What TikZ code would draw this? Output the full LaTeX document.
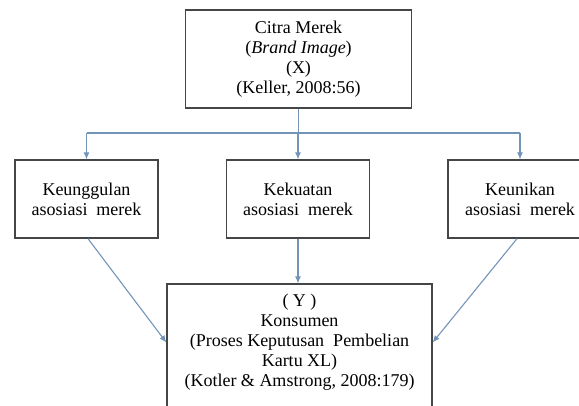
\documentclass[tikz,border=0pt]{standalone}
\usepackage{fontspec}
\setmainfont{Liberation Serif}
\usetikzlibrary{arrows.meta}
\definecolor{arrowblue}{RGB}{115,148,185}
\definecolor{boxgray}{RGB}{70,70,70}
\begin{document}
\begin{tikzpicture}[x=1pt,y=-1pt,
  box/.style={draw=boxgray,line width=1.3pt,rectangle,inner sep=0pt,align=center,font=\fontsize{18}{20}\selectfont},
  txt/.style={inner sep=0pt,align=center,font=\fontsize{18}{20}\selectfont},
  conn/.style={draw=arrowblue,line width=1.1pt},
  arr/.style={conn,-{Latex[length=7pt,width=6pt]}}]
\useasboundingbox (0,0) rectangle (579,405);
\clip (0,0) rectangle (579,405);
\fill[white] (0,0) rectangle (579,405);
\node[box,minimum width=226pt,minimum height=98pt] (x) at (298.5,59) {Citra Merek\\(\textit{Brand Image})\\(X)\\(Keller, 2008:56)};
\node[box,minimum width=143pt,minimum height=78pt] (l) at (86.5,199) {Keunggulan\\asosiasi\ \ merek};
\node[box,minimum width=143pt,minimum height=78pt] (m) at (298,199) {Kekuatan\\asosiasi\ \ merek};
\node[box,minimum width=144pt,minimum height=78pt] (r) at (520,199) {Keunikan\\asosiasi\ \ merek};
\node[box,minimum width=265pt,minimum height=126pt] (y) at (299.5,347) {};
\node[txt] (yt) at (299.5,342.5) {( Y )\\Konsumen\\(Proses Keputusan\ \ Pembelian\\Kartu XL)\\(Kotler \& Amstrong, 2008:179)};
\coordinate (j) at (298,133);
\draw[conn] (x.south) -- (x.south |- j);
\draw[conn] (l.north |- j) -- (r.north |- j);
\draw[arr] (l.north |- j) -- (l.north);
\draw[arr] (m.north |- j) -- (m.north);
\draw[arr] (r.north |- j) -- (r.north);
\draw[arr] (m.south) -- (m.south |- y.north);
\draw[arr] ([xshift=1.5pt]l.south) -- (y.west |- yt.center);
\draw[arr] ([xshift=-3pt]r.south) -- (y.east |- yt.center);
\end{tikzpicture}
\end{document}
